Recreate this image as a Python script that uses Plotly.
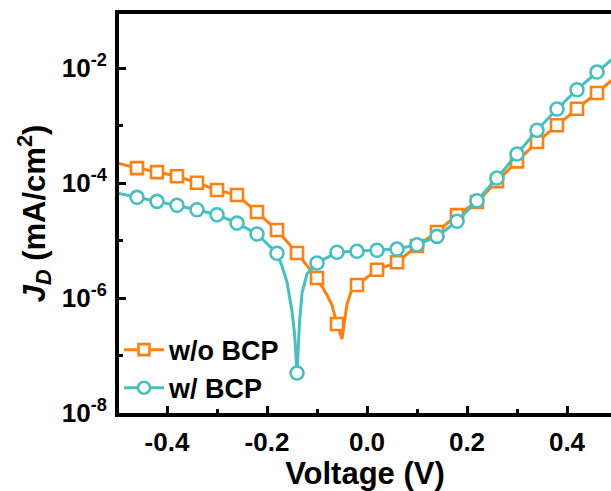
import plotly.graph_objects as go

# Bias voltage (V) at the sampled points shown with markers
voltage = [-0.50, -0.46, -0.42, -0.38, -0.34, -0.30, -0.26, -0.22, -0.18, -0.14,
           -0.10, -0.06, -0.02, 0.02, 0.06, 0.10, 0.14, 0.18, 0.22, 0.26,
           0.30, 0.34, 0.38, 0.42, 0.46, 0.50]

# Dark current density |J_D| (mA/cm^2)
jd_without_bcp = [2.23e-4, 1.82e-4, 1.55e-4, 1.31e-4, 1.01e-4, 7.55e-5, 6.18e-5, 3.13e-5, 1.52e-5, 6.07e-6,
                  2.23e-6, 3.53e-7, 1.68e-6, 3.10e-6, 4.18e-6, 8.02e-6, 1.41e-5, 2.77e-5, 4.68e-5, 1.08e-4,
                  2.38e-4, 5.16e-4, 1.01e-3, 1.96e-3, 3.67e-3, 7.26e-3]
jd_with_bcp = [6.70e-5, 5.64e-5, 4.80e-5, 4.10e-5, 3.43e-5, 2.81e-5, 2.01e-5, 1.30e-5, 6.00e-6, 4.97e-8,
               4.06e-6, 6.24e-6, 6.49e-6, 6.76e-6, 7.10e-6, 8.45e-6, 1.18e-5, 2.16e-5, 4.92e-5, 1.22e-4,
               3.19e-4, 8.26e-4, 1.94e-3, 4.20e-3, 8.51e-3, 1.68e-2]

# Extra finely sampled points around the zero-crossing dips (line only)
dip_v_without = [-0.09, -0.08, -0.07, -0.05, -0.04, -0.03]
dip_j_without = [1.62e-6, 1.13e-6, 7.55e-7, 1.94e-7, 7.87e-7, 1.44e-6]
dip_v_with = [-0.17, -0.16, -0.15, -0.145, -0.135, -0.13, -0.12, -0.11]
dip_j_with = [3.61e-6, 1.90e-6, 5.94e-7, 2.46e-7, 3.67e-7, 1.22e-6, 2.61e-6, 3.33e-6]

series_names = ["w/o BCP", "w/ BCP"]
x_tickvals = [-0.4, -0.2, 0.0, 0.2, 0.4]
x_ticktext = ["-0.4", "-0.2", "0.0", "0.2", "0.4"]
y_tickvals = [1e-8, 1e-6, 1e-4, 1e-2]
y_ticktext = ["10<sup>-8</sup>", "10<sup>-6</sup>", "10<sup>-4</sup>", "10<sup>-2</sup>"]

ORANGE = "#FF800E"
TEAL = "#45BFC0"
FONT = "Liberation Sans, Arial, sans-serif"


def merged(v_main, j_main, v_extra, j_extra):
    pts = sorted(zip(list(v_main) + list(v_extra), list(j_main) + list(j_extra)))
    return [p[0] for p in pts], [p[1] for p in pts]


fig = go.Figure()

styles = [
    (jd_without_bcp, dip_v_without, dip_j_without, ORANGE, "square", 12),
    (jd_with_bcp, dip_v_with, dip_j_with, TEAL, "circle", 13),
]

for k, (jd, dv, dj, color, symbol, size) in enumerate(styles):
    lx, ly = merged(voltage, jd, dv, dj)
    # continuous curve
    fig.add_trace(go.Scatter(x=lx, y=ly, mode="lines", showlegend=False,
                             line=dict(color=color, width=3), cliponaxis=False,
                             hoverinfo="skip"))
    # open markers at the sampled voltages
    fig.add_trace(go.Scatter(x=voltage, y=jd, mode="markers", showlegend=False,
                             marker=dict(symbol=symbol, size=size, color="white",
                                         line=dict(color=color, width=2.6)),
                             cliponaxis=False))
    # legend entry
    fig.add_trace(go.Scatter(x=[None], y=[None], mode="lines+markers", name=series_names[k],
                             legendgroup=series_names[k],
                             line=dict(color=color, width=3),
                             marker=dict(symbol=symbol, size=size - 1, color="white",
                                         line=dict(color=color, width=2.6))))

axis_font = dict(family=FONT, size=26, color="black", weight="bold")
title_font = dict(family=FONT, size=31, color="black", weight="bold")

fig.update_layout(
    width=611, height=491,
    margin=dict(l=119, r=0, t=14, b=78),
    plot_bgcolor="white", paper_bgcolor="white",
    showlegend=True,
    legend=dict(x=0.0, y=0.11, xanchor="left", yanchor="middle",
                bgcolor="rgba(0,0,0,0)", borderwidth=0,
                font=dict(family=FONT, size=27, color="black", weight="bold"),
                itemwidth=40, tracegroupgap=0),
    xaxis=dict(
        range=[-0.496, 0.488],
        tickvals=x_tickvals, ticktext=x_ticktext,
        ticks="inside", ticklen=7, tickwidth=3, tickcolor="black",
        minor=dict(dtick=0.1, tick0=0, ticks="inside", ticklen=4, tickwidth=3, tickcolor="black"),
        showline=True, linewidth=4, linecolor="black", mirror=True,
        showgrid=False, zeroline=False,
        tickfont=axis_font, ticklabelstandoff=3,
        title=dict(text="Voltage (V)", standoff=2, font=title_font),
    ),
    yaxis=dict(
        type="log", range=[-8, -1.06],
        tickvals=y_tickvals, ticktext=y_ticktext,
        ticks="inside", ticklen=7, tickwidth=3, tickcolor="black",
        minor=dict(tickvals=[1e-7, 1e-5, 1e-3, 1e-1], ticks="inside", ticklen=4,
                   tickwidth=3, tickcolor="black"),
        showline=True, linewidth=4, linecolor="black", mirror=False,
        showgrid=False, zeroline=False,
        tickfont=axis_font, ticklabelstandoff=3,
        title=dict(text="<i>J</i><sub><i>D</i></sub> (mA/cm<sup>2</sup>)", standoff=8,
                   font=title_font),
    ),
)

fig.write_html("out.html")
